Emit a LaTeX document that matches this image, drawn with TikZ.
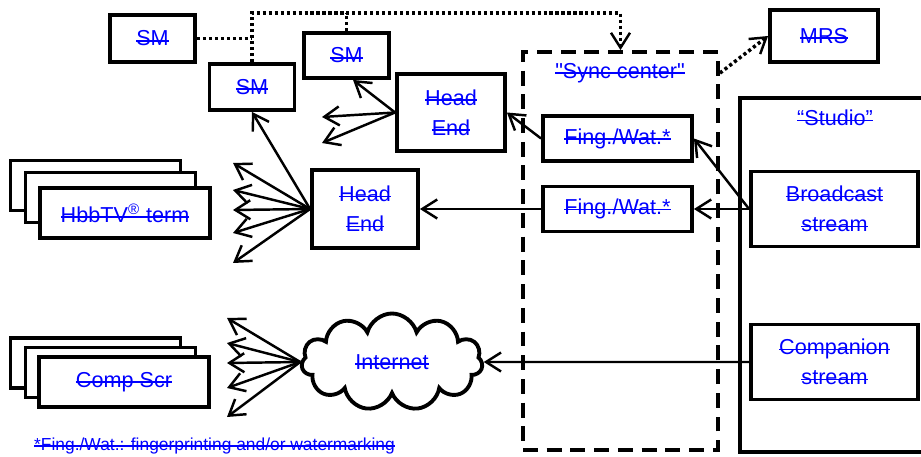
\documentclass[tikz,border=0pt]{standalone}
\usepackage{fontspec}
\setmainfont{Liberation Sans}
\usetikzlibrary{arrows.meta,positioning,shapes.symbols}
\definecolor{inkblue}{HTML}{0000FF}
\newcommand{\strk}[1]{\setbox0\hbox{#1}\rlap{\rule[0.2em]{\wd0}{1pt}}\box0}
\tikzset{
  lbl/.style={font=\fontsize{12.3}{17}\selectfont,text=inkblue,align=center},
  note/.style={font=\fontsize{9.9}{12}\selectfont,text=inkblue,anchor=west},
  box/.style={draw,line width=2.2pt,fill=white,lbl,inner sep=0pt},
  frame/.style={draw,line width=2.2pt,dash pattern=on 8.5pt off 5pt},
  arr/.style={-{Straight Barb[length=3mm,width=3.8mm]},line width=1.4pt},
  dots/.style={line width=2pt,dash pattern=on 1.8pt off 1.6pt},
  darr/.style={dots,-{Straight Barb[length=3mm,width=3.8mm,line width=1.4pt]}}
}
\begin{document}
\begin{tikzpicture}[x=1cm,y=1cm]
\path[use as bounding box] (0,0) rectangle (18.42,9.12);
\clip (0,0) rectangle (18.42,9.12);
% frames
\node[frame,minimum width=3.9cm,minimum height=7.96cm] (sync) at (12.41,4.10) {};
\node[lbl] (synctxt) at (12.4,7.66) {\strk{\textquotedbl Sync center\textquotedbl}};
\node[draw,line width=2.2pt,minimum width=3.8cm,minimum height=7.08cm,anchor=north west] (studio) at (14.76,7.2) {};
\node[lbl] (studiotxt) at (16.7,6.76) {\strk{“Studio”}};
% boxes
\node[box,minimum width=1.7cm,minimum height=0.94cm] (sm1) at (3.05,8.35) {\strk{SM}};
\node[box,minimum width=1.7cm,minimum height=0.92cm] (sm2) at (5.04,7.38) {\strk{SM}};
\node[box,minimum width=1.7cm,minimum height=0.9cm] (sm3) at (6.93,8.01) {\strk{SM}};
\node[box,minimum width=2.16cm,minimum height=1.04cm] (mrs) at (16.48,8.40) {\strk{MRS}};
\node[box,minimum width=2.16cm,minimum height=1.54cm] (he1) at (9.02,6.87) {\strk{Head}\\\strk{End}};
\node[box,minimum width=2.12cm,minimum height=1.56cm] (he2) at (7.30,4.94) {\strk{Head}\\\strk{End}};
\node[box,minimum width=2.98cm,minimum height=0.9cm] (fing1) at (12.35,6.35) {\strk{Fing./Wat.*}};
\node[box,minimum width=2.98cm,minimum height=0.9cm] (fing2) at (12.35,4.94) {\strk{Fing./Wat.*}};
\node[box,minimum width=3.34cm,minimum height=1.5cm] (bcast) at (16.69,4.94) {\strk{Broadcast}\\\strk{stream}};
\node[box,minimum width=3.34cm,minimum height=1.5cm] (comp) at (16.69,1.88) {\strk{Companion}\\\strk{stream}};
\node[cloud,draw,line width=2.2pt,fill=white,cloud puffs=11,aspect=1.9,minimum width=3.62cm,minimum height=1.94cm,lbl] (inet) at (7.84,1.88) {\strk{Internet}};
% stacked terminals
\foreach \dx/\dy in {-0.59/0.55,-0.29/0.31} \node[box,minimum width=3.4cm,minimum height=1.0cm] at (2.5+\dx,4.86+\dy) {};
\node[box,minimum width=3.4cm,minimum height=1.0cm] (hbb) at (2.5,4.86) {\strk{HbbTV\textsuperscript{\textregistered}\ term}};
\foreach \dx/\dy in {-0.57/0.38,-0.27/0.19} \node[box,minimum width=3.4cm,minimum height=1.0cm] at (2.48+\dx,1.48+\dy) {};
\node[box,minimum width=3.4cm,minimum height=1.0cm] (scr) at (2.48,1.48) {\strk{Comp Scr}};
\node[note] (foot) at (0.56,0.2) {\strk{*Fing./Wat.: fingerprinting and/or watermarking}};
% dotted links
\coordinate (ctop) at (12.41,8.86);
\draw[darr] (sm2.north) |- (ctop) -- (sync.north);
\draw[dots] (sm1.east) -- (sm1.east -| sm2.north);
\draw[dots] (sm3.north) -- (sm3.north |- ctop);
\draw[darr] ([yshift=-0.46cm]sync.north east) -- (mrs.west);
% streams
\draw[arr] (bcast.west) -- (fing2.east); \draw[arr] (bcast.west) -- (fing1.east);
\draw[arr] (fing1.west) -- (he1.east); \draw[arr] (fing2.west) -- (he2.east);
\draw[arr] (comp.west) -- (inet.east);
% fan out
\draw[arr] (he1.west) -- (sm3.285);
\foreach \i/\y in {1/6.78,2/6.26} {\coordinate (ha\i) at (6.44,\y); \draw[arr] (he1.west) -- (ha\i);}
\draw[arr] (he2.west) -- (sm2.south);
\foreach \i/\y in {1/5.86,2/5.32,3/4.92,4/4.46,5/3.86} {\coordinate (hb\i) at (4.66,\y); \draw[arr] (he2.west) -- (hb\i);}
\foreach \i/\y in {1/2.76,2/2.26,3/1.86,4/1.36,5/0.78} {\coordinate (ic\i) at (4.54,\y); \draw[arr] (inet.west) -- (ic\i);}
\end{tikzpicture}
\end{document}
